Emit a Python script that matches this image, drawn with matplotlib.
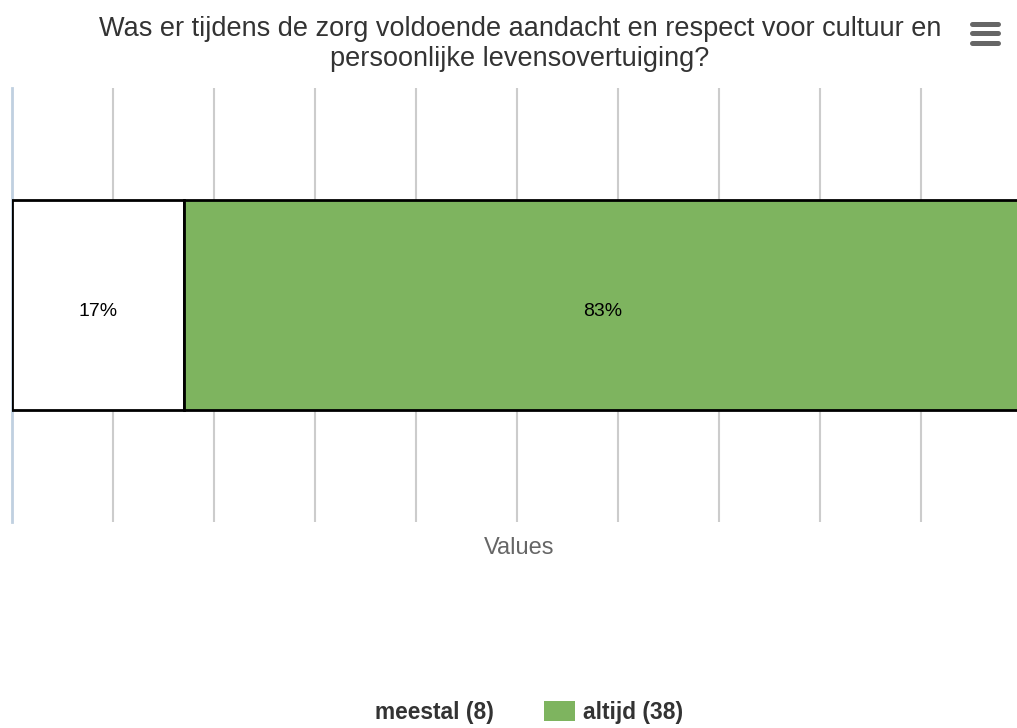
import matplotlib.pyplot as plt
from matplotlib.lines import Line2D
from matplotlib.patches import Patch

plt.rcParams['font.family'] = ['Liberation Sans', 'DejaVu Sans']

title = 'Was er tijdens de zorg voldoende aandacht en respect voor cultuur en\npersoonlijke levensovertuiging?'
series = ['meestal', 'altijd']
counts = [8, 38]
percents = [17, 83]
colors = ['#ffffff', '#7eb45f']

W, H = 1017, 728
fig = plt.figure(figsize=(W / 100, H / 100), dpi=100)

# plot area runs a bit past the right edge, like the original layout
ax = fig.add_axes([12 / W, 1 - 522 / H, 1010 / W, 434 / H])
ax.set_xlim(0, 100)
ax.set_ylim(-0.5, 0.5)

left = 0
for name, pct, col in zip(series, percents, colors):
    ax.barh(0, pct, left=left, height=0.484, color=col, edgecolor='black',
            linewidth=2, zorder=3)
    ax.annotate(f'{pct}%', (left + pct / 2, 0), xytext=(0, -6),
                textcoords='offset pixels', ha='center', va='center',
                fontsize=14, color='black', zorder=4)
    left += pct

ax.set_xticks(range(0, 101, 10))
ax.set_yticks([])
ax.tick_params(axis='x', length=0, labelbottom=False)
ax.grid(axis='x', color='#cccccc', linewidth=1.5, zorder=0)
for s in ['top', 'right', 'bottom']:
    ax.spines[s].set_visible(False)
ax.spines['left'].set_color('#c0d0e0')
ax.spines['left'].set_linewidth(2)

fig.text(519 / W, 1 - 548 / H, 'Values', ha='center', va='center',
         fontsize=17, color='#666666')

fig.text(520 / W, 1 - 44 / H, title, ha='center', va='center',
         fontsize=19.5, color='#333333', linespacing=1.18)

# menu icon
for yy in (24, 33, 43):
    fig.add_artist(Line2D([972 / W, 998 / W], [1 - yy / H, 1 - yy / H],
                          color='#666666', linewidth=3.6, solid_capstyle='round'))

handles = [Patch(facecolor=c, edgecolor='none') for c in colors]
labels = [f'{n} ({c})' for n, c in zip(series, counts)]
fig.legend(handles, labels, loc='center', bbox_to_anchor=(510 / W, 1 - 712 / H),
           ncol=2, frameon=False, prop={'weight': 'bold', 'size': 16.4},
           labelcolor='#333333', handlelength=1.36, handleheight=1.0,
           columnspacing=2.2, handletextpad=0.35, borderpad=0)

fig.savefig('out.png', dpi=100)
